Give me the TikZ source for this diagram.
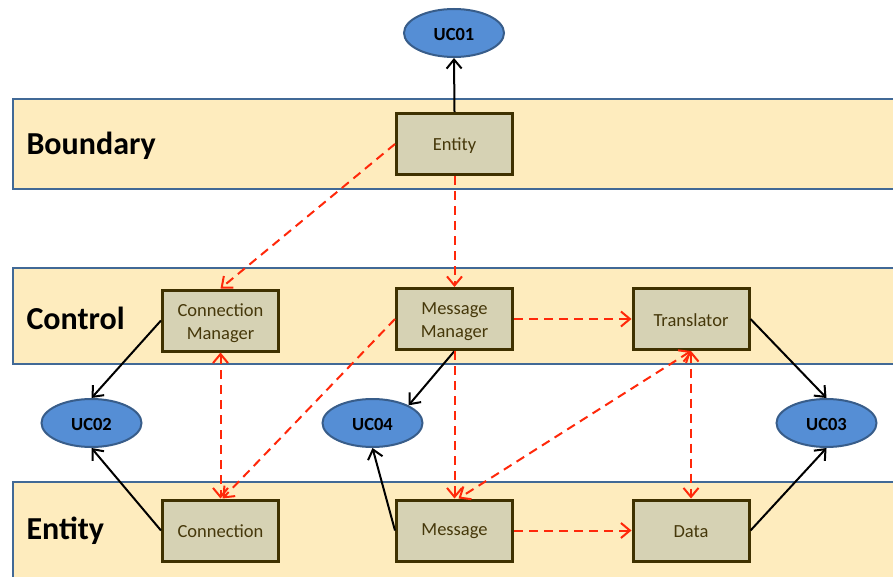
\documentclass[tikz,border=0pt]{standalone}
\usepackage{fontspec}
\setmainfont{Carlito}
\usetikzlibrary{arrows.meta,shapes.geometric}

\definecolor{bandfill}{RGB}{254,236,190}
\definecolor{bandline}{RGB}{65,105,150}
\definecolor{boxfill}{RGB}{214,210,180}
\definecolor{boxline}{RGB}{63,49,0}
\definecolor{boxtext}{RGB}{70,56,10}
\definecolor{ucfill}{RGB}{85,142,213}
\definecolor{ucline}{RGB}{56,93,138}
\definecolor{flowred}{RGB}{255,40,10}

\tikzset{
  band/.style={draw=bandline, line width=2.5pt, fill=bandfill},
  bandlabel/.style={anchor=west, font=\fontsize{32}{36}\selectfont\bfseries, text=black},
  classbox/.style={draw=boxline, line width=3pt, fill=boxfill, minimum width=116pt,
    minimum height=61pt},
  classtext/.style={align=center, text=boxtext, font=\fontsize{18.5}{23}\selectfont},
  usecase/.style={ellipse, draw=ucline, line width=2pt, fill=ucfill, minimum width=100pt,
    minimum height=48pt, inner sep=0pt},
  uctext/.style={font=\fontsize{18.5}{22}\selectfont\bfseries},
  assoc/.style={draw=black, line width=2pt, -{Straight Barb[length=9pt,width=15pt]}},
  dep/.style={draw=flowred, line width=2pt, dash pattern=on 9pt off 6pt,
    -{Straight Barb[length=9pt,width=15pt]}},
  depboth/.style={dep, {Straight Barb[length=9pt,width=15pt]}-{Straight Barb[length=9pt,width=15pt]}}
}

\begin{document}
\begin{tikzpicture}[x=1pt, y=-1pt]
  \useasboundingbox (0,0) rectangle (893,577);
  \clip (0,0) rectangle (893,577);

  % layer bands
  \path[band] (13,99) rectangle (905,189);
  \path[band] (13,268) rectangle (905,364);
  \path[band] (13,482) rectangle (905,600);
  \node[bandlabel] (lb) at (23,146) {Boundary};
  \node[bandlabel] (lc) at (23,318) {Control};
  \node[bandlabel] (le) at (23,531) {Entity};

  % classes
  \node[classbox] (ent) at (454.5,144) {};
  \node[classbox] (cm)  at (220.5,320.5) {};
  \node[classbox] (mm)  at (454.5,319) {};
  \node[classbox] (tr)  at (691,319) {};
  \node[classbox] (con) at (220.5,530.5) {};
  \node[classbox] (msg) at (454.5,530.5) {};
  \node[classbox] (dat) at (691,530.5) {};

  \node[classtext] (entt) at ([yshift=-2pt]ent.center) {Entity};
  \node[classtext] (cmt)  at ([yshift=-2.5pt]cm.center) {Connection\\Manager};
  \node[classtext] (mmt)  at ([yshift=-2.5pt]mm.center) {Message\\Manager};
  \node[classtext] (trt)  at ([yshift=-1pt]tr.center) {Translator};
  \node[classtext] (cont) at ([yshift=-1pt]con.center) {Connection};
  \node[classtext] (msgt) at ([yshift=-1pt]msg.center) {Message};
  \node[classtext] (datt) at ([yshift=-1pt]dat.center) {Data};

  % use cases
  \node[usecase] (uc1) at (454,33) {};
  \node[usecase] (uc2) at (91.5,423) {};
  \node[usecase] (uc4) at (372.5,423) {};
  \node[usecase] (uc3) at (826.5,423) {};
  \node[uctext] (uc1t) at ([yshift=-1.5pt]uc1.center) {UC01};
  \node[uctext] (uc2t) at ([yshift=-1.5pt]uc2.center) {UC02};
  \node[uctext] (uc4t) at ([yshift=-1.5pt]uc4.center) {UC04};
  \node[uctext] (uc3t) at ([yshift=-1.5pt]uc3.center) {UC03};

  % associations to use cases
  \draw[assoc] (ent.north) -- (uc1.south);
  \draw[assoc] (cm.west) -- (uc2.north);
  \draw[assoc] (mm.south) -- (uc4.north east);
  \draw[assoc] (tr.east) -- (uc3.north);
  \draw[assoc] (con.west) -- (uc2.south);
  \draw[assoc] (msg.west) -- (uc4.south);
  \draw[assoc] (dat.east) -- (uc3.south);

  % dependencies between classes
  \draw[dep] (ent.west) -- (cm.north);
  \draw[dep] (ent.south) -- (mm.north);
  \draw[depboth] (cm.south) -- (con.north);
  \draw[dep] (mm.south) -- (msg.north);
  \draw[dep] (mm.west) -- ([xshift=2pt]con.north);
  \draw[depboth] (tr.south) -- ([xshift=4pt]msg.north);
  \draw[depboth] (tr.south) -- (dat.north);
  \draw[dep] (mm.east) -- (tr.west);
  \draw[dep] (msg.east) -- (dat.west);
\end{tikzpicture}
\end{document}
